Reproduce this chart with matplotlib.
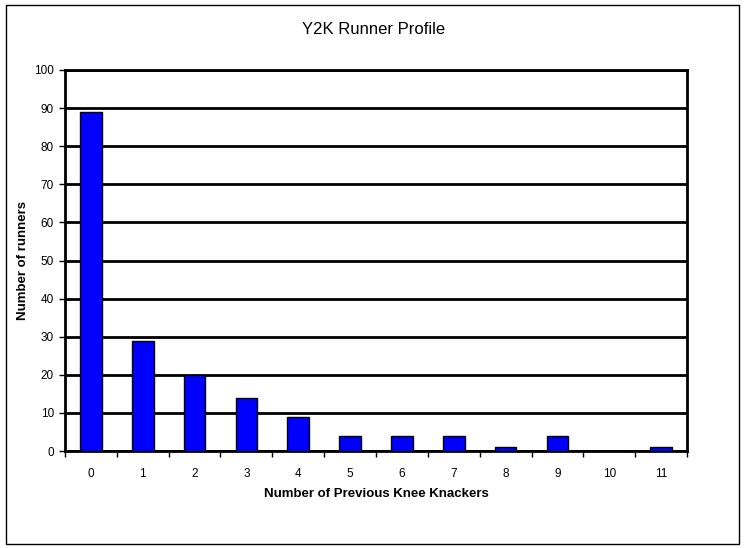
import numpy as np
import matplotlib
matplotlib.use('Agg')
from matplotlib import pyplot as plt
from matplotlib.patches import Rectangle

### DATA
knee_knackers = ['0', '1', '2', '3', '4', '5', '6', '7', '8', '9', '10', '11']
runners = [89, 29, 20, 14, 9, 4, 4, 4, 1, 4, 0, 1]
y_ticks = [0, 10, 20, 30, 40, 50, 60, 70, 80, 90, 100]

### STYLE
plt.rcParams['font.family'] = ['Liberation Sans', 'DejaVu Sans']
W, H = 747, 548

fig = plt.figure(figsize=(W / 100, H / 100), dpi=100)
fig.patch.set_facecolor('white')

# outer chart border
fig.patches.append(Rectangle((5.5 / W, 4.5 / H), 733 / W, 538.5 / H,
                             transform=fig.transFigure, fill=False,
                             edgecolor='black', linewidth=1.0))

ax = fig.add_axes([65 / W, (H - 451) / H, (687 - 65) / W, (451 - 70) / H])

x = np.arange(len(knee_knackers))
ax.bar(x, runners, width=0.42, color='#0000ff', edgecolor='black', linewidth=1.0, zorder=3)

ax.set_xlim(-0.5, len(knee_knackers) - 0.5)
ax.set_ylim(0, 100)

# gridlines (heavy black, Excel style)
ax.set_yticks(y_ticks)
ax.yaxis.grid(True, color='black', linewidth=2.0, zorder=1)
ax.set_axisbelow(True)

# x: labels at centres, tick marks at category boundaries
ax.set_xticks(x)
ax.set_xticklabels(knee_knackers)
ax.set_xticks(np.arange(-0.5, len(knee_knackers)), minor=True)
ax.tick_params(axis='x', which='major', length=0, pad=12, labelsize=8.5)
ax.tick_params(axis='x', which='minor', length=4, width=1.0, direction='out')
ax.tick_params(axis='y', length=4, width=1.0, direction='out', pad=4, labelsize=8.5)

for side in ['left', 'right', 'top', 'bottom']:
    ax.spines[side].set_linewidth(2.0)
    ax.spines[side].set_color('black')

ax.set_xlabel('Number of Previous Knee Knackers', fontsize=9.5, fontweight='bold')
ax.set_ylabel('Number of runners', fontsize=9.5, fontweight='bold')
ax.xaxis.set_label_coords(0.5, -(494 - 451) / 381, transform=ax.transAxes)
ax.yaxis.set_label_coords(-(65 - 23) / 622, 0.5, transform=ax.transAxes)
ax.xaxis.label.set_va('center')
ax.yaxis.label.set_va('center')
fig.text(0.5, (H - 30) / H, 'Y2K Runner Profile', ha='center', va='center', fontsize=12)

fig.savefig('out.png', dpi=100, facecolor='white')
